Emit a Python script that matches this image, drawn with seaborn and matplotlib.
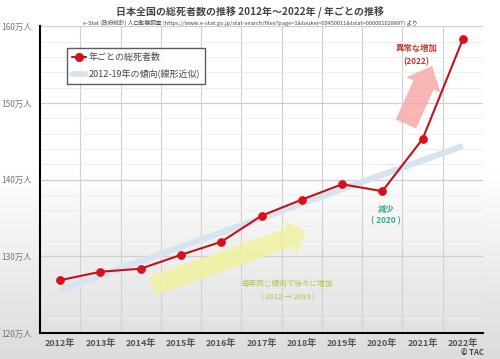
import numpy as np
import pandas as pd
import seaborn as sns
import matplotlib.pyplot as plt
from matplotlib.lines import Line2D
from matplotlib.colors import LinearSegmentedColormap

# 年ごとの総死者数 (万人)
years = [2012, 2013, 2014, 2015, 2016, 2017, 2018, 2019, 2020, 2021, 2022]
deaths = [126.9, 128.0, 128.4, 130.2, 131.9, 135.3, 137.4, 139.4, 138.5, 145.3, 158.3]
# 2012-19 trend line endpoints (万人)
trend_years = [2012, 2022]
trend_values = [125.6, 144.4]
year_labels = [f"{y}年" for y in years]
ytick_values = [120, 130, 140, 150, 160]
ytick_labels = [f"{v}万人" for v in ytick_values]

sns.set_style("white")
plt.rcParams['font.family'] = ['Noto Sans CJK JP', 'DejaVu Sans']

df = pd.DataFrame({"year": years, "deaths": deaths})
trend = pd.DataFrame({"year": trend_years, "value": trend_values})

fig = plt.figure(figsize=(5, 3.59), dpi=100)

# gray gradient background
bg = fig.add_axes([0, 0, 1, 1], zorder=-2)
grad = np.concatenate([np.ones(120), np.linspace(1, 0, 136)]).reshape(-1, 1)
bg.imshow(grad, aspect="auto", cmap=LinearSegmentedColormap.from_list("g", ["#dcdcdc", "#ffffff"]),
          extent=[0, 1, 0, 1], vmin=0, vmax=1)
bg.axis("off")

ax = fig.add_axes([0.08, 0.072, 0.886, 0.855])
ax.patch.set_alpha(0)
ax.set_xlim(2011.5, 2022.5)
ax.set_ylim(120, 160)

# grid
for x in np.arange(2012.5, 2023, 1):
    ax.axvline(x, color="#d0d0d0", lw=0.8, zorder=0)
for y in np.arange(122, 160, 2):
    ax.axhline(y, color="#ececec", lw=0.6, zorder=0)
for y in ytick_values[1:]:
    ax.axhline(y, color="#cfcfcf", lw=0.9, zorder=0)

sns.lineplot(data=trend, x="year", y="value", ax=ax, color="#d6e4ef", lw=4.5,
             solid_capstyle="butt", zorder=1, legend=False)
sns.lineplot(data=df, x="year", y="deaths", ax=ax, color="#c0121a", lw=1.5,
             marker="o", markersize=5.5, markerfacecolor="#d9101c",
             markeredgecolor="#d9101c", zorder=3, legend=False)

# decorative arrows (figure pixels)
ax.annotate("", xy=(306, 127), xytext=(152, 73), xycoords="figure pixels",
            textcoords="figure pixels", zorder=1,
            arrowprops=dict(arrowstyle="simple,head_length=12,head_width=26,tail_width=14",
                            mutation_scale=1, color="#f0f2a0", alpha=0.85, lw=0,
                            shrinkA=0, shrinkB=0))
ax.annotate("", xy=(432, 293), xytext=(406, 235), xycoords="figure pixels",
            textcoords="figure pixels", zorder=1,
            arrowprops=dict(arrowstyle="simple,head_length=15,head_width=27,tail_width=16",
                            mutation_scale=1, color="#f6a8a8", alpha=0.85, lw=0,
                            shrinkA=0, shrinkB=0))

ax.text(2020.85, 156.8, "異常な増加", color="#c0392b", fontsize=6, weight="bold", ha="center")
ax.text(2020.85, 155.1, "(2022)", color="#c0392b", fontsize=6, weight="bold", ha="center")
ax.text(2020.1, 135.8, "減少", color="#3aaa8a", fontsize=6, weight="bold", ha="center")
ax.text(2020.1, 134.3, "( 2020 )", color="#3aaa8a", fontsize=6, weight="bold", ha="center")
ax.text(2017.65, 126.1, "毎年同じ傾向で徐々に増加", color="#b9c23c", fontsize=5.5, ha="center")
ax.text(2017.65, 124.4, "( 2012 → 2019 )", color="#b9c23c", fontsize=5.5, ha="center")

ax.set_xticks(years)
ax.set_xticklabels(year_labels, fontsize=6.5, color="#555555", weight="bold")
ax.set_yticks(ytick_values)
ax.set_yticklabels(ytick_labels, fontsize=6, color="#777777")
ax.tick_params(axis="x", length=0, pad=4)
ax.tick_params(axis="y", length=0, pad=6)
ax.set_xlabel("")
ax.set_ylabel("")
for side in ["top", "right"]:
    ax.spines[side].set_visible(False)
for side in ["left", "bottom"]:
    ax.spines[side].set_color("black")
    ax.spines[side].set_linewidth(1.5)

handles = [
    Line2D([], [], color="#c0121a", lw=1.5, marker="o", markersize=5.5,
           markerfacecolor="#d9101c", markeredgecolor="#d9101c"),
    Line2D([], [], color="#d6e4ef", lw=4),
]
leg = ax.legend(handles, ["年ごとの総死者数", "2012-19年の傾向(線形近似)"],
                loc="upper left", bbox_to_anchor=(0.05, 0.945), fontsize=6.5,
                frameon=True, fancybox=False, handlelength=1.5, handletextpad=0.3,
                labelspacing=0.75, borderpad=0.6)
leg.get_frame().set_edgecolor("#333333")
leg.get_frame().set_linewidth(1.0)
for t in leg.get_texts():
    t.set_color("#444444")

fig.text(0.5, 0.965, "日本全国の総死者数の推移 2012年～2022年 / 年ごとの推移",
         ha="center", va="center", fontsize=7.2, weight="bold", color="#444444")
fig.text(0.5, 0.935, "e-Stat (政府統計) 人口動態調査 (https://www.e-stat.go.jp/stat-search/files?page=1&toukei=00450011&tstat=000001028897) より",
         ha="center", va="center", fontsize=4.1, color="#444444")
fig.text(0.968, 0.015, "© TAC", ha="right", va="center", fontsize=5.5, weight="bold", color="#444444")

fig.savefig("out.png", dpi=100)
